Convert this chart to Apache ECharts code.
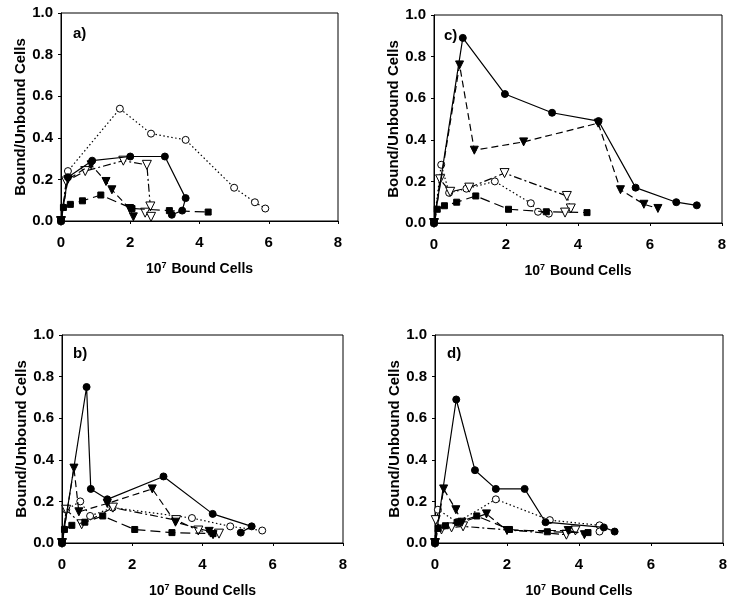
<!DOCTYPE html>
<html><head><meta charset="utf-8">
<script src="https://cdn.jsdelivr.net/npm/echarts@6/dist/echarts.min.js"></script>
<style>html,body{margin:0;padding:0;background:#fff}#c{width:737px;height:605px}</style>
</head><body><div id="c"></div>
<script>
// tick labels
const xTicks = [0, 2, 4, 6, 8];
const yTicks = [0, 0.2, 0.4, 0.6, 0.8, 1.0];
const panelLabels = ['a)', 'c)', 'b)', 'd)'];

// Panel a
const a_filledCircle = [[0,0],[0.2,0.21],[0.9,0.29],[2.0,0.31],[3.0,0.31],[3.6,0.11],[3.5,0.05],[3.2,0.03]];
const a_filledTri = [[0,0],[0.2,0.2],[0.87,0.27],[1.3,0.19],[1.47,0.15],[1.98,0.06],[2.09,0.02]];
const a_openCircle = [[0,0],[0.2,0.24],[1.7,0.54],[2.6,0.42],[3.6,0.39],[5.0,0.16],[5.6,0.09],[5.9,0.06]];
const a_openTri = [[0,0],[0.15,0.19],[0.7,0.24],[1.8,0.29],[2.48,0.27],[2.58,0.07],[2.43,0.04],[2.6,0.02]];
const a_square = [[0,0],[0.07,0.065],[0.27,0.08],[0.62,0.097],[1.15,0.125],[2.05,0.06],[3.13,0.05],[4.25,0.043]];

// Panel c
const c_filledCircle = [[0,0],[0.8,0.89],[1.97,0.62],[3.28,0.53],[4.57,0.49],[5.6,0.17],[6.73,0.1],[7.3,0.085]];
const c_filledTri = [[0,0],[0.71,0.76],[1.12,0.35],[2.49,0.39],[4.56,0.48],[5.18,0.16],[5.83,0.09],[6.22,0.07]];
const c_openCircle = [[0,0],[0.2,0.28],[0.42,0.145],[0.9,0.165],[1.69,0.2],[2.69,0.095],[2.89,0.054],[3.19,0.045]];
const c_openTri = [[0,0],[0.17,0.21],[0.45,0.15],[0.98,0.17],[1.96,0.24],[3.69,0.13],[3.8,0.07],[3.64,0.05]];
const c_square = [[0,0],[0.09,0.066],[0.29,0.083],[0.63,0.1],[1.16,0.13],[2.07,0.066],[3.12,0.054],[4.25,0.05]];

// Panel b
const b_filledCircle = [[0,0],[0.7,0.75],[0.82,0.26],[1.29,0.21],[2.89,0.32],[4.29,0.14],[5.4,0.08],[5.09,0.05]];
const b_filledTri = [[0,0],[0.34,0.36],[0.48,0.15],[1.29,0.19],[2.57,0.26],[3.23,0.1],[4.19,0.056],[4.3,0.04]];
const b_openCircle = [[0,0],[0.12,0.16],[0.52,0.2],[0.8,0.13],[1.44,0.17],[3.7,0.12],[4.79,0.08],[5.7,0.06]];
const b_openTri = [[0,0],[0.12,0.16],[0.56,0.09],[1.45,0.17],[3.25,0.11],[3.88,0.06],[4.47,0.045]];
const b_square = [[0,0],[0.07,0.065],[0.28,0.085],[0.65,0.1],[1.16,0.13],[2.07,0.065],[3.13,0.05],[4.3,0.045]];

// Panel d
const d_filledCircle = [[0,0],[0.59,0.69],[1.11,0.35],[1.69,0.26],[2.49,0.26],[3.07,0.1],[4.69,0.075],[4.99,0.055]];
const d_filledTri = [[0,0],[0.24,0.26],[0.58,0.16],[0.75,0.1],[1.43,0.14],[2.0,0.06],[3.7,0.06],[4.15,0.04]];
const d_openCircle = [[0,0],[0.08,0.16],[0.62,0.1],[1.69,0.21],[3.19,0.11],[4.57,0.085],[4.57,0.055]];
const d_openTri = [[0,0],[0.02,0.11],[0.18,0.065],[0.46,0.075],[0.78,0.08],[3.65,0.04],[3.9,0.06]];
const d_square = [[0,0],[0.09,0.07],[0.29,0.083],[0.63,0.1],[1.16,0.13],[2.07,0.065],[3.12,0.054],[4.25,0.05]];

const panels = [
  {data:[a_filledCircle,a_filledTri,a_openCircle,a_openTri,a_square], grid:{left:61,top:13,width:277,height:208}, label:{left:73,top:26}},
  {data:[c_filledCircle,c_filledTri,c_openCircle,c_openTri,c_square], grid:{left:434,top:15,width:288,height:208}, label:{left:444,top:28}},
  {data:[b_filledCircle,b_filledTri,b_openCircle,b_openTri,b_square], grid:{left:62,top:335,width:281,height:208}, label:{left:73,top:346}},
  {data:[d_filledCircle,d_filledTri,d_openCircle,d_openTri,d_square], grid:{left:435,top:335,width:288,height:208}, label:{left:447,top:346}}
];

const FONT = '"Liberation Sans", Arial, sans-serif';
const styles = [
  {symbol:'circle', size:7, rotate:0, fill:'#000', line:'solid'},
  {symbol:'triangle', size:8, rotate:180, fill:'#000', line:[7,4]},
  {symbol:'circle', size:7, rotate:0, fill:'#fff', line:[1.5,2.5]},
  {symbol:'triangle', size:9, rotate:180, fill:'#fff', line:[8,3,2,3]},
  {symbol:'rect', size:6, rotate:0, fill:'#000', line:[10,5]}
];

const grids = [], xAxes = [], yAxes = [], series = [], titles = [];
panels.forEach((p, i) => {
  grids.push(Object.assign({show:true, borderColor:'#000', borderWidth:1, backgroundColor:'#fff'}, p.grid));
  xAxes.push({
    gridIndex:i, type:'value', min:xTicks[0], max:xTicks[xTicks.length-1], interval:xTicks[1]-xTicks[0],
    axisLine:{show:true, onZero:false, lineStyle:{color:'#000', width:1}},
    axisTick:{show:true, inside:false, length:3, lineStyle:{color:'#000'}},
    splitLine:{show:false},
    axisLabel:{color:'#000', fontFamily:FONT, fontWeight:'bold', fontSize:15, margin:14},
    name:'10{s|7} Bound Cells', nameLocation:'middle', nameGap:40,
    nameTextStyle:{color:'#000', fontFamily:FONT, fontWeight:'bold', fontSize:14,
      rich:{s:{fontSize:9, fontWeight:'bold', fontFamily:FONT, verticalAlign:'top', padding:[0,1,8,0], color:'#000'}}}
  });
  yAxes.push({
    gridIndex:i, type:'value', min:yTicks[0], max:yTicks[yTicks.length-1], interval:yTicks[1]-yTicks[0],
    axisLine:{show:true, onZero:false, lineStyle:{color:'#000', width:1}},
    axisTick:{show:true, inside:false, length:3, lineStyle:{color:'#000'}},
    splitLine:{show:false},
    axisLabel:{color:'#000', fontFamily:FONT, fontWeight:'bold', fontSize:15, margin:8, formatter:v=>v.toFixed(1)},
    name:'Bound/Unbound Cells', nameLocation:'middle', nameGap:30,
    nameTextStyle:{color:'#000', fontFamily:FONT, fontWeight:'bold', fontSize:15}
  });
  p.data.forEach((d, k) => {
    const s = styles[k];
    series.push({
      type:'line', xAxisIndex:i, yAxisIndex:i, data:d, animation:false,
      symbol:s.symbol, symbolSize:s.size, symbolRotate:s.rotate, showSymbol:true,
      lineStyle:{color:'#000', width:1.2, type:s.line},
      itemStyle:{color:s.fill, borderColor:'#000', borderWidth:1},
      z: 2 + (s.fill === '#000' ? 1 : 0)
    });
  });
  titles.push({text:panelLabels[i], left:p.label.left, top:p.label.top, padding:0,
    textStyle:{color:'#000', fontFamily:FONT, fontWeight:'bold', fontSize:15}});
});

const chart = echarts.init(document.getElementById('c'), null, {renderer:'canvas'});
chart.setOption({animation:false, backgroundColor:'#fff', title:titles, grid:grids, xAxis:xAxes, yAxis:yAxes, series:series});
</script></body></html>
